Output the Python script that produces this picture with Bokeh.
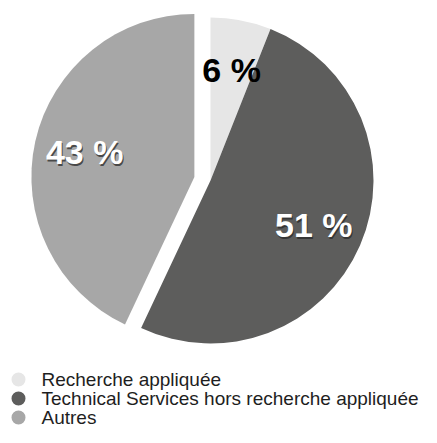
import math
from bokeh.plotting import figure
from bokeh.models import ColumnDataSource, Range1d
from bokeh.core.properties import value
from bokeh.embed import file_html
from bokeh.resources import INLINE

# ---- data ----
categories = ["Recherche appliquée",
              "Technical Services hors recherche appliquée",
              "Autres"]
shares = [6, 51, 43]
labels = ["6 %", "51 %", "43 %"]

# ---- styles ----
colors = ["#e6e6e6", "#5d5d5c", "#a7a7a7"]
label_colors = ["#000000", "#ffffff", "#ffffff"]
shadow_alpha = [0.0, 0.75, 0.75]
explode = [0, 0, 16.5]

W, H = 421, 427
p = figure(width=W, height=H, x_range=Range1d(0, W), y_range=Range1d(0, H),
           output_backend="svg", toolbar_location=None, min_border=0)
p.axis.visible = False
p.grid.visible = False
p.outline_line_color = None

# picture (210,180) -> data
cx, cy = 210, H - 180
R = 163
LR = 0.69 * R

total = float(sum(shares))
a = math.pi / 2
wx, wy, a0s, a1s, lx, ly = [], [], [], [], [], []
for s, e in zip(shares, explode):
    sweep = 2 * math.pi * s / total
    a0, a1 = a, a - sweep
    mid = (a0 + a1) / 2
    ox = cx + e * math.cos(mid)
    oy = cy + e * math.sin(mid)
    wx.append(ox); wy.append(oy); a0s.append(a0); a1s.append(a1)
    lx.append(ox + LR * math.cos(mid)); ly.append(oy + LR * math.sin(mid))
    a = a1

src = ColumnDataSource(dict(x=wx, y=wy, start=a0s, end=a1s, color=colors,
                            lx=lx, ly=ly, label=labels, lcolor=label_colors,
                            salpha=shadow_alpha, cat=categories))

p.wedge(x="x", y="y", radius=R, radius_units="screen", start_angle="start",
        end_angle="end", direction="clock", fill_color="color",
        line_color=None, source=src)

# shadow for the white labels
p.text(x="lx", y="ly", text="label", source=src, text_color="#2a2a2a",
       text_alpha="salpha", x_offset=1, y_offset=1.5,
       text_font=value("Liberation Sans"), text_font_style="bold",
       text_font_size="34px", text_align="center", text_baseline="middle")
p.text(x="lx", y="ly", text="label", source=src, text_color="lcolor",
       text_font=value("Liberation Sans"), text_font_style="bold",
       text_font_size="34px", text_align="center", text_baseline="middle")

# ---- legend ----
n = len(categories)
row0 = H - 379  # first row centre (data y)
step = 19
leg_y = [row0 - i * step for i in range(n)]
leg_src = ColumnDataSource(dict(y=leg_y, x=[18] * n, tx=[41] * n,
                                 cat=categories, color=colors))
p.scatter(x="x", y="y", size=14, marker="circle", fill_color="color",
          line_color=None, source=leg_src)
p.text(x="tx", y="y", text="cat", source=leg_src, text_color="#1e1e1e",
       text_font=value("Liberation Sans"), text_font_size="19px",
       text_align="left", text_baseline="middle")

open("out.html", "w").write(file_html(p, INLINE))
